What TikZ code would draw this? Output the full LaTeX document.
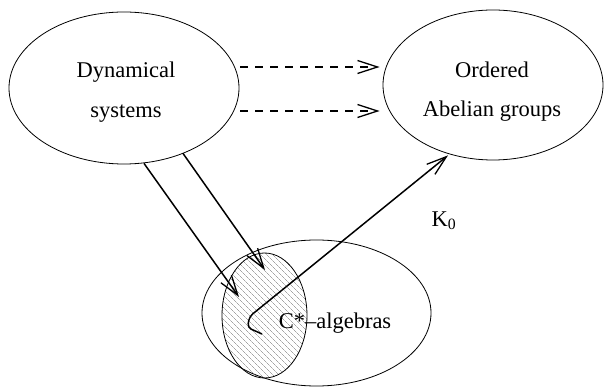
\documentclass[tikz,border=0pt]{standalone}
\usepackage{fontspec}
\setmainfont{Liberation Serif}
\usetikzlibrary{arrows.meta,shapes.geometric,patterns.meta,calc}
\tikzset{
  blob/.style={ellipse, draw=black, line width=0.8pt, inner sep=0pt},
  lbl/.style={inner sep=0pt, align=center, font=\fontsize{22.5}{40}\selectfont},
  arr/.style={-{Straight Barb[length=20pt,width=13pt,line width=1.3pt]}, line width=1.5pt},
  dasharr/.style={arr, dash pattern=on 8pt off 7pt},
}
\begin{document}
\begin{tikzpicture}[x=1pt, y=-1pt]
  \useasboundingbox (0,0) rectangle (605,387);
  % the three classes
  \node[blob, minimum width=230pt, minimum height=152pt] (dyn) at (124,88) {};
  \node[blob, minimum width=220pt, minimum height=150pt] (ord) at (493,85) {};
  \node[blob, minimum width=229pt, minimum height=146pt] (alg) at (316.5,313) {};
  % hatched part
  \node[ellipse, draw=black, line width=0.8pt, minimum width=85pt, minimum height=125pt,
    pattern={Lines[angle=-45, distance=4pt, line width=0.45pt]}, pattern color=black!55]
    (cst) at (264.5,315.5) {};
  % labels
  \node[lbl] (dyntxt) at ($(dyn.center)+(2,4)$) {Dynamical\\systems};
  \node[lbl, font=\fontsize{22.5}{39}\selectfont] (ordtxt) at ($(ord.center)+(-1,7)$) {Ordered\\Abelian groups};
  \node[lbl] (calg) at (335,323) {C*--algebras};
  \node[lbl] (k0) at (444,221) {K\textsubscript{0}};
  % arrows
  \draw[dasharr] ($(dyn.east)+(1,-21)$) -- ($(ord.west)+(-3,-18)$);
  \draw[dasharr] ($(dyn.east)+(1,23)$) -- ($(ord.west)+(-3,26)$);
  \draw[arr] ($(dyn.south)+(20,-1)$) -- ($(cst.center)+(-25.5,-18.5)$);
  \draw[arr] ($(dyn.south)+(59,-11)$) -- ($(cst.center)+(0.5,-45.5)$);
  \draw[arr, rounded corners=4pt] ($(cst.center)+(-2.5,18.5)$) -- ($(cst.center)+(-17,12)$)
    -- ($(cst.center)+(-15,1)$) -- ($(ord.south)+(-45,-5)$);
\end{tikzpicture}
\end{document}
